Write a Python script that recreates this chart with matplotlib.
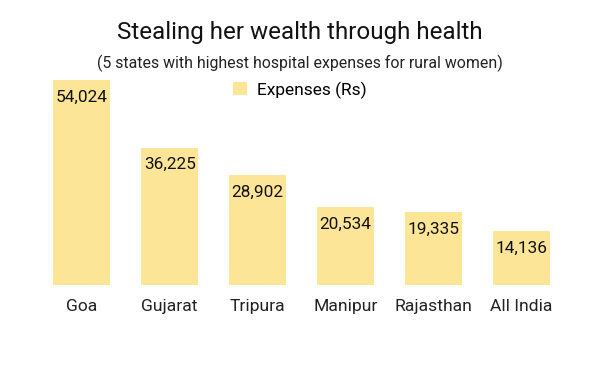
import matplotlib
matplotlib.use("Agg")
import matplotlib.pyplot as plt
from matplotlib.patches import Patch

plt.rcParams['font.family'] = ['Roboto', 'DejaVu Sans']

categories = ["Goa", "Gujarat", "Tripura", "Manipur", "Rajasthan", "All India"]
values = [54024, 36225, 28902, 20534, 19335, 14136]
series_name = "Expenses (Rs)"
title = "Stealing her wealth through health"
subtitle = "(5 states with highest hospital expenses for rural women)"

W, H = 600, 371
fig = plt.figure(figsize=(6, 3.71), dpi=100)
color = "#FDE598"

left, right = 38 / W, 565 / W
bottom, top = 1 - 285 / H, 1 - 80 / H
ax = fig.add_axes([left, bottom, right - left, top - bottom])
x = range(len(categories))
bars = ax.bar(x, values, width=0.65, color=color)
ax.set_xlim(-0.5, len(categories) - 0.5)
ax.set_ylim(0, max(values))
for xi, v in zip(x, values):
    ax.annotate(f"{v:,}", (xi, v), xytext=(0, -7), textcoords="offset points",
                ha="center", va="top", fontsize=12.4, color="#111111")
ax.set_xticks(list(x))
ax.set_xticklabels(categories, fontsize=12.6, color="#222222")
ax.tick_params(axis="x", length=0, pad=10)
ax.set_yticks([])
for s in ax.spines.values():
    s.set_visible(False)

fig.text(0.5, 1 - 32 / H, title, ha="center", va="center", fontsize=17.4, color="#111111")
fig.text(0.5, 1 - 63 / H, subtitle, ha="center", va="center", fontsize=11.4, color="#222222")
fig.legend(handles=[Patch(facecolor=color, edgecolor="none", label=series_name)],
           loc="center", bbox_to_anchor=(0.5, 1 - 90 / H), frameon=False,
           fontsize=12.5, handlelength=0.8, handleheight=0.8, handletextpad=0.6)

fig.savefig("out.png", dpi=100)
